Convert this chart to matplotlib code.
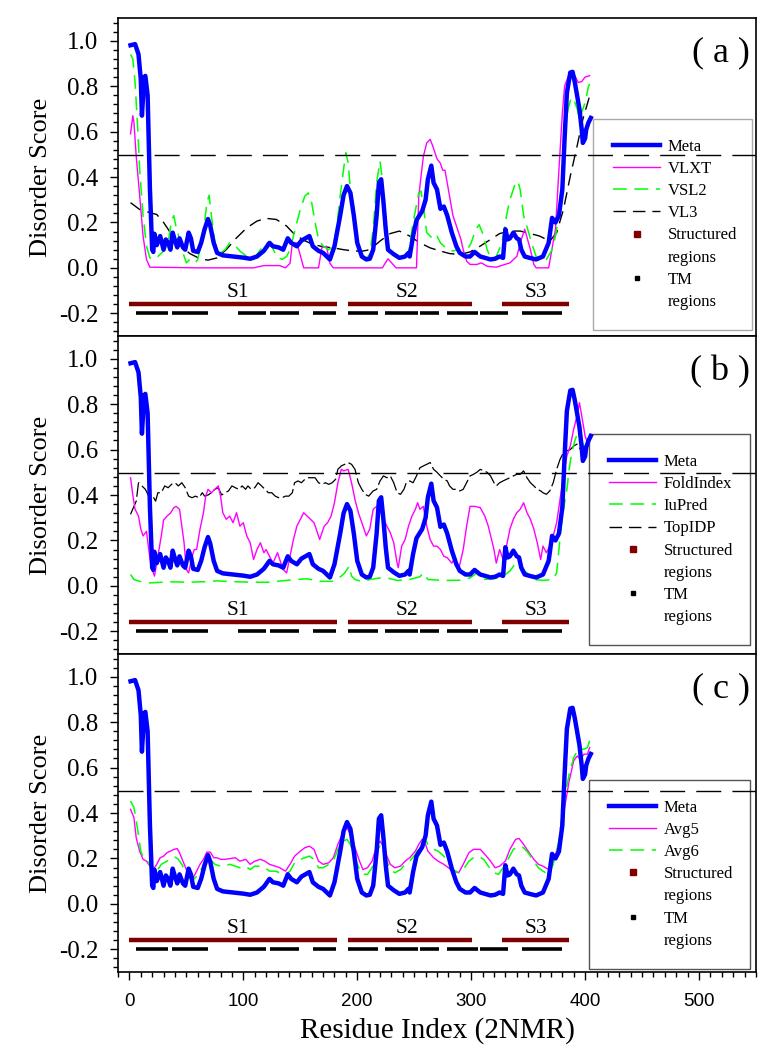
import matplotlib.pyplot as plt  # 绘图
from matplotlib.lines import Line2D  # 图例句柄
from matplotlib.ticker import MultipleLocator  # 刻度

plt.rcParams['font.family'] = ['Liberation Serif', 'DejaVu Serif']
plt.rcParams['axes.unicode_minus'] = False

# ---- Meta (same in all three panels) ----
meta_res = [1, 5, 8, 10, 11, 13, 14, 16, 17, 18, 20, 21, 22, 24, 27, 30, 32, 34, 36, 38, 40, 42, 44, 47, 49,
            52, 54, 56, 60, 63, 66, 69, 71, 74, 77, 82, 91, 100, 106, 112, 118, 123, 126, 131, 135, 139, 142,
            147, 151, 158, 161, 166, 170, 176, 180, 185, 188, 191, 194, 197, 200, 204, 208, 211, 214, 217, 219,
            221, 223, 225, 227, 232, 237, 242, 245, 246, 249, 252, 257, 260, 262, 265, 267, 270, 273, 276, 279,
            283, 287, 290, 295, 299, 303, 308, 312, 317, 321, 325, 328, 330, 332, 334, 337, 340, 342, 344, 347,
            352, 357, 363, 368, 371, 374, 377, 380, 382, 384, 387, 389, 391, 393, 395, 397, 398, 400, 401, 403, 405]
meta_score = [0.98, 0.985, 0.94, 0.83, 0.67, 0.84, 0.845, 0.76, 0.55, 0.35, 0.08, 0.07, 0.15, 0.10, 0.14, 0.08,
              0.125, 0.11, 0.08, 0.155, 0.12, 0.09, 0.13, 0.09, 0.08, 0.155, 0.13, 0.075, 0.07, 0.11, 0.17, 0.215,
              0.185, 0.11, 0.066, 0.055, 0.05, 0.045, 0.04, 0.05, 0.075, 0.11, 0.095, 0.09, 0.08, 0.13, 0.11,
              0.095, 0.12, 0.14, 0.095, 0.075, 0.066, 0.037, 0.095, 0.23, 0.32, 0.36, 0.33, 0.23, 0.11, 0.05,
              0.037, 0.04, 0.08, 0.23, 0.375, 0.39, 0.29, 0.17, 0.08, 0.06, 0.044, 0.05, 0.066, 0.05, 0.14, 0.21,
              0.25, 0.30, 0.39, 0.45, 0.375, 0.345, 0.26, 0.27, 0.23, 0.155, 0.095, 0.066, 0.05, 0.05, 0.07, 0.05,
              0.044, 0.037, 0.04, 0.05, 0.044, 0.17, 0.125, 0.13, 0.155, 0.13, 0.125, 0.08, 0.05, 0.043, 0.037,
              0.05, 0.11, 0.22, 0.20, 0.23, 0.345, 0.57, 0.77, 0.86, 0.863, 0.816, 0.757, 0.70, 0.61, 0.55, 0.57,
              0.61, 0.64, 0.66]

# ---- panel (a) ----
vlxt_res = [1, 3, 4, 6, 9, 12, 15, 18, 60, 109, 118, 132, 137, 141, 143, 147, 151, 153, 166, 169, 173, 176, 179,
            222, 227, 234, 252, 254, 258, 261, 264, 266, 270, 273, 275, 277, 280, 284, 288, 291, 293, 296, 299,
            305, 309, 314, 322, 334, 340, 344, 347, 352, 355, 357, 368, 374, 377, 380, 382, 385, 388, 391, 394,
            397, 400, 404]
vlxt_score = [0.59, 0.67, 0.64, 0.49, 0.32, 0.14, 0.037, 0.003, 0.0, 0.0, 0.01, 0.01, 0.0, 0.02, 0.11, 0.11,
              0.037, 0.0, 0.0, 0.09, 0.095, 0.02, 0.0, 0.0, 0.04, 0.0, 0.0, 0.316, 0.49, 0.55, 0.566, 0.54, 0.48,
              0.46, 0.43, 0.43, 0.345, 0.23, 0.17, 0.125, 0.08, 0.03, 0.015, 0.015, 0.022, 0.007, 0.003, 0.022,
              0.05, 0.125, 0.17, 0.08, 0.015, 0.0, 0.0, 0.17, 0.43, 0.68, 0.80, 0.84, 0.853, 0.846, 0.816, 0.82,
              0.84, 0.846]

vsl2_res = [1, 3, 5, 7, 9, 12, 15, 18, 21, 25, 30, 34, 37, 39, 41, 44, 47, 50, 53, 58, 60, 65, 68, 70, 72, 75,
            80, 84, 88, 93, 97, 103, 109, 115, 120, 125, 129, 134, 138, 141, 144, 147, 150, 154, 157, 160, 163,
            166, 170, 175, 179, 182, 185, 188, 190, 192, 195, 198, 202, 207, 211, 214, 217, 220, 222, 224, 227,
            232, 237, 240, 245, 249, 254, 256, 258, 261, 264, 267, 270, 273, 276, 280, 284, 288, 292, 296, 300,
            304, 307, 311, 314, 318, 322, 327, 331, 334, 338, 341, 343, 346, 349, 353, 357, 362, 366, 371, 374,
            377, 380, 382, 385, 388, 390, 393, 395, 397, 400, 403, 404]
vsl2_score = [0.94, 0.92, 0.816, 0.64, 0.434, 0.23, 0.096, 0.044, 0.037, 0.05, 0.074, 0.11, 0.21, 0.23, 0.18,
              0.125, 0.066, 0.022, 0.037, 0.022, 0.037, 0.155, 0.287, 0.32, 0.23, 0.11, 0.066, 0.08, 0.11, 0.096,
              0.074, 0.05, 0.037, 0.08, 0.11, 0.096, 0.05, 0.037, 0.05, 0.08, 0.14, 0.20, 0.257, 0.316, 0.33,
              0.287, 0.20, 0.125, 0.096, 0.08, 0.096, 0.18, 0.316, 0.434, 0.507, 0.463, 0.287, 0.17, 0.08, 0.037,
              0.06, 0.17, 0.375, 0.47, 0.39, 0.20, 0.08, 0.066, 0.05, 0.037, 0.066, 0.20, 0.33, 0.338, 0.27,
              0.155, 0.14, 0.125, 0.14, 0.11, 0.096, 0.08, 0.074, 0.08, 0.063, 0.074, 0.11, 0.17, 0.19, 0.14,
              0.08, 0.037, 0.05, 0.11, 0.23, 0.30, 0.36, 0.382, 0.345, 0.23, 0.18, 0.11, 0.05, 0.037, 0.037,
              0.08, 0.14, 0.23, 0.39, 0.58, 0.70, 0.75, 0.743, 0.70, 0.654, 0.684, 0.728, 0.80, 0.81]

vl3_res = [1, 9, 18, 24, 30, 36, 44, 53, 62, 69, 77, 85, 94, 103, 112, 120, 129, 138, 145, 153, 161, 170, 179,
           188, 197, 205, 211, 220, 229, 237, 246, 255, 264, 273, 281, 290, 299, 308, 317, 325, 334, 343, 352,
           360, 369, 375, 381, 387, 393, 398, 404]
vl3_score = [0.287, 0.257, 0.243, 0.235, 0.20, 0.155, 0.103, 0.063, 0.04, 0.034, 0.044, 0.08, 0.132, 0.176,
             0.206, 0.218, 0.213, 0.184, 0.147, 0.122, 0.103, 0.093, 0.088, 0.08, 0.074, 0.074, 0.08, 0.118,
             0.151, 0.162, 0.14, 0.11, 0.088, 0.074, 0.063, 0.059, 0.07, 0.096, 0.125, 0.151, 0.162, 0.162,
             0.151, 0.14, 0.118, 0.155, 0.257, 0.404, 0.537, 0.654, 0.757]

# ---- panel (b) ----
fold_res = [1, 3, 5, 8, 10, 12, 15, 17, 19, 22, 24, 26, 28, 30, 33, 36, 39, 41, 44, 46, 48, 50, 52, 55, 57, 59,
            62, 65, 67, 69, 72, 75, 78, 80, 82, 85, 88, 91, 94, 97, 100, 103, 106, 109, 112, 115, 118, 120, 123,
            126, 130, 133, 135, 138, 141, 144, 147, 150, 153, 156, 159, 162, 164, 167, 171, 174, 177, 180, 183,
            186, 188, 192, 195, 198, 201, 204, 208, 211, 214, 217, 220, 223, 226, 229, 232, 235, 236, 239, 242,
            245, 248, 251, 253, 255, 258, 261, 264, 267, 270, 273, 276, 279, 283, 286, 289, 293, 296, 299, 303,
            308, 312, 315, 320, 322, 325, 328, 331, 334, 337, 340, 343, 346, 349, 352, 355, 358, 361, 363, 366,
            369, 372, 375, 378, 381, 384, 387, 390, 393, 395, 397, 400, 403, 404]
fold_score = [0.476, 0.40, 0.337, 0.307, 0.25, 0.22, 0.24, 0.16, 0.087, 0.043, 0.10, 0.16, 0.22, 0.29, 0.307,
              0.32, 0.344, 0.35, 0.337, 0.263, 0.19, 0.072, 0.057, 0.13, 0.16, 0.16, 0.25, 0.322, 0.395, 0.425,
              0.41, 0.425, 0.44, 0.395, 0.322, 0.293, 0.307, 0.278, 0.322, 0.263, 0.278, 0.22, 0.19, 0.116, 0.16,
              0.19, 0.146, 0.16, 0.13, 0.10, 0.146, 0.10, 0.072, 0.057, 0.13, 0.204, 0.263, 0.293, 0.322, 0.307,
              0.293, 0.278, 0.25, 0.204, 0.263, 0.278, 0.307, 0.366, 0.454, 0.513, 0.506, 0.513, 0.454, 0.38,
              0.322, 0.278, 0.22, 0.25, 0.337, 0.35, 0.337, 0.293, 0.263, 0.234, 0.19, 0.10, 0.08, 0.175, 0.204,
              0.263, 0.307, 0.337, 0.366, 0.337, 0.35, 0.263, 0.204, 0.175, 0.175, 0.16, 0.13, 0.124, 0.10,
              0.124, 0.072, 0.16, 0.263, 0.35, 0.35, 0.344, 0.307, 0.263, 0.16, 0.10, 0.16, 0.116, 0.175, 0.25,
              0.293, 0.322, 0.337, 0.366, 0.322, 0.293, 0.25, 0.19, 0.116, 0.175, 0.146, 0.175, 0.22, 0.278,
              0.38, 0.484, 0.572, 0.616, 0.69, 0.75, 0.807, 0.75, 0.66, 0.616, 0.645]

iupred_res = [1, 4, 9, 18, 36, 50, 65, 77, 94, 109, 123, 138, 147, 156, 167, 179, 186, 189, 193, 195, 198, 205,
              211, 220, 226, 235, 246, 255, 258, 262, 276, 293, 299, 305, 309, 320, 328, 334, 339, 343, 349,
              355, 363, 372, 375, 377, 380, 384, 386, 388, 391, 394, 397, 400, 402]
iupred_score = [0.05, 0.028, 0.02, 0.013, 0.018, 0.016, 0.018, 0.022, 0.018, 0.016, 0.016, 0.024, 0.028, 0.031,
                0.02, 0.02, 0.043, 0.057, 0.087, 0.043, 0.028, 0.018, 0.028, 0.035, 0.035, 0.024, 0.028, 0.04,
                0.057, 0.028, 0.024, 0.025, 0.035, 0.057, 0.028, 0.031, 0.043, 0.065, 0.10, 0.08, 0.057, 0.028,
                0.024, 0.028, 0.057, 0.16, 0.307, 0.425, 0.513, 0.58, 0.64, 0.68, 0.64, 0.60, 0.587]

topidp_res = [1, 4, 6, 8, 11, 14, 17, 20, 23, 25, 28, 31, 34, 37, 40, 43, 46, 49, 52, 55, 58, 61, 64, 66, 69,
              72, 75, 78, 81, 84, 87, 90, 93, 96, 99, 102, 104, 107, 110, 113, 116, 119, 122, 125, 128, 131,
              134, 137, 140, 143, 145, 148, 151, 154, 157, 160, 163, 166, 169, 172, 175, 178, 181, 183, 186,
              189, 192, 195, 198, 201, 204, 207, 210, 214, 217, 220, 223, 226, 229, 232, 235, 238, 241, 243,
              246, 249, 252, 255, 258, 261, 264, 267, 270, 273, 276, 279, 281, 284, 287, 290, 293, 296, 299,
              302, 305, 308, 311, 314, 317, 320, 322, 325, 328, 331, 334, 337, 340, 343, 346, 349, 352, 355,
              358, 361, 363, 366, 369, 372, 375, 378, 381, 384, 387, 390, 393, 396, 399, 401, 403]
topidp_score = [0.315, 0.35, 0.373, 0.454, 0.44, 0.425, 0.395, 0.40, 0.373, 0.41, 0.41, 0.44, 0.432, 0.447,
                0.454, 0.44, 0.454, 0.432, 0.395, 0.388, 0.395, 0.388, 0.41, 0.395, 0.40, 0.41, 0.425, 0.432,
                0.40, 0.41, 0.418, 0.44, 0.432, 0.425, 0.44, 0.425, 0.44, 0.425, 0.432, 0.454, 0.44, 0.425,
                0.41, 0.41, 0.395, 0.388, 0.388, 0.395, 0.395, 0.41, 0.454, 0.462, 0.454, 0.469, 0.476, 0.476,
                0.476, 0.454, 0.447, 0.454, 0.447, 0.454, 0.469, 0.513, 0.528, 0.535, 0.543, 0.535, 0.513,
                0.454, 0.425, 0.403, 0.395, 0.418, 0.425, 0.462, 0.484, 0.476, 0.484, 0.454, 0.41, 0.403, 0.425,
                0.454, 0.462, 0.454, 0.484, 0.52, 0.528, 0.535, 0.543, 0.513, 0.50, 0.484, 0.469, 0.462, 0.44,
                0.425, 0.425, 0.418, 0.425, 0.454, 0.484, 0.491, 0.50, 0.513, 0.506, 0.50, 0.484, 0.454, 0.44,
                0.454, 0.462, 0.469, 0.476, 0.484, 0.491, 0.491, 0.506, 0.476, 0.454, 0.44, 0.425, 0.418, 0.41,
                0.403, 0.418, 0.454, 0.513, 0.557, 0.587, 0.594, 0.60, 0.616, 0.624, 0.60, 0.616, 0.594, 0.61]

# ---- panel (c) ----
avg5_res = [1, 4, 6, 9, 12, 15, 18, 21, 24, 27, 30, 33, 36, 39, 42, 44, 47, 50, 53, 56, 59, 62, 65, 68, 71, 74,
            77, 80, 84, 88, 93, 97, 102, 106, 110, 115, 119, 123, 128, 132, 137, 141, 145, 150, 154, 158, 162,
            166, 170, 175, 179, 183, 188, 191, 194, 198, 202, 205, 209, 213, 217, 220, 223, 226, 229, 233, 238,
            242, 246, 251, 254, 257, 260, 262, 267, 271, 276, 280, 284, 289, 293, 298, 302, 308, 312, 317, 321,
            325, 330, 334, 339, 342, 346, 350, 355, 359, 363, 368, 372, 377, 381, 386, 390, 393, 396, 399, 402,
            404]
avg5_score = [0.416, 0.38, 0.29, 0.232, 0.196, 0.188, 0.166, 0.151, 0.174, 0.203, 0.21, 0.225, 0.232, 0.24,
              0.243, 0.225, 0.188, 0.151, 0.137, 0.115, 0.144, 0.174, 0.196, 0.228, 0.228, 0.203, 0.203, 0.196,
              0.196, 0.199, 0.203, 0.188, 0.196, 0.174, 0.188, 0.196, 0.188, 0.174, 0.166, 0.159, 0.144, 0.174,
              0.21, 0.232, 0.247, 0.254, 0.24, 0.188, 0.174, 0.181, 0.203, 0.262, 0.32, 0.335, 0.306, 0.247,
              0.188, 0.151, 0.159, 0.188, 0.254, 0.276, 0.254, 0.21, 0.174, 0.159, 0.166, 0.188, 0.203, 0.232,
              0.262, 0.284, 0.262, 0.232, 0.203, 0.188, 0.174, 0.159, 0.144, 0.137, 0.174, 0.225, 0.24, 0.24,
              0.218, 0.188, 0.159, 0.166, 0.188, 0.24, 0.284, 0.288, 0.262, 0.232, 0.196, 0.174, 0.166, 0.151,
              0.188, 0.262, 0.394, 0.541, 0.63, 0.651, 0.637, 0.659, 0.659, 0.688]

avg6_res = [1, 4, 7, 10, 13, 16, 19, 21, 25, 28, 33, 37, 40, 43, 46, 49, 52, 56, 61, 65, 68, 71, 75, 80, 84, 88,
            93, 97, 102, 106, 110, 115, 119, 123, 128, 132, 137, 141, 145, 150, 154, 158, 162, 166, 170, 175,
            179, 183, 188, 191, 194, 198, 202, 205, 209, 213, 217, 220, 223, 226, 229, 233, 238, 242, 246, 251,
            255, 259, 262, 267, 271, 276, 280, 284, 289, 293, 298, 302, 306, 311, 315, 320, 324, 328, 333, 337,
            342, 346, 350, 355, 359, 363, 368, 372, 377, 381, 386, 390, 394, 399, 402, 404]
avg6_score = [0.453, 0.424, 0.335, 0.232, 0.196, 0.188, 0.159, 0.13, 0.151, 0.174, 0.188, 0.203, 0.206, 0.196,
              0.174, 0.144, 0.115, 0.107, 0.13, 0.174, 0.218, 0.196, 0.174, 0.166, 0.166, 0.174, 0.166, 0.159,
              0.166, 0.151, 0.166, 0.166, 0.159, 0.144, 0.144, 0.137, 0.13, 0.144, 0.181, 0.196, 0.203, 0.21,
              0.196, 0.159, 0.159, 0.174, 0.188, 0.24, 0.276, 0.284, 0.262, 0.203, 0.151, 0.13, 0.13, 0.159,
              0.232, 0.254, 0.232, 0.188, 0.151, 0.137, 0.151, 0.174, 0.188, 0.218, 0.254, 0.291, 0.262, 0.24,
              0.232, 0.21, 0.181, 0.151, 0.137, 0.151, 0.188, 0.203, 0.21, 0.196, 0.166, 0.137, 0.13, 0.159,
              0.203, 0.24, 0.254, 0.247, 0.225, 0.188, 0.159, 0.144, 0.13, 0.174, 0.276, 0.438, 0.571, 0.644,
              0.681, 0.681, 0.688, 0.718]

# ---- structured / TM regions ----
struct_start = [0, 192, 327]
struct_end = [182, 301, 386]
struct_names = ['S1', 'S2', 'S3']
struct_label_x = [95, 244, 357]
tm_start = [6, 37, 95, 123, 161, 192, 224, 255, 279, 308, 345]
tm_end = [34, 69, 120, 149, 181, 218, 253, 272, 306, 332, 380]

W, H = 768, 1050
fig = plt.figure(figsize=(W / 100, H / 100), dpi=100)

ax_left, ax_width = 118 / W, 638 / W
panel_h = 318
panel_tops = [18, 336, 654]


def draw_regions(ax):
    """结构区域和跨膜区域"""
    for s0, s1 in zip(struct_start, struct_end):
        ax.plot([s0, s1], [-0.157, -0.157], color='#800000', lw=3.2, solid_capstyle='butt')
    for t0, t1 in zip(tm_start, tm_end):
        ax.plot([t0, t1], [-0.198, -0.198], color='black', lw=2.6, solid_capstyle='butt')
    for name, xs in zip(struct_names, struct_label_x):
        ax.text(xs, -0.11, name, ha='center', va='center', fontsize=15.5)


def make_legend(ax, handles, labels, anchor, edge):
    """右下角图例"""
    handles = handles + [
        Line2D([], [], ls='none', marker='s', color='#800000', markersize=4),
        Line2D([], [], ls='none'),
        Line2D([], [], ls='none', marker='s', color='black', markersize=3),
        Line2D([], [], ls='none'),
    ]
    labels = labels + ['Structured', 'regions', 'TM', 'regions']
    leg = ax.legend(handles, labels, loc='lower left', bbox_to_anchor=anchor, mode='expand',
                    borderaxespad=0, fontsize=12, handlelength=2.8, handletextpad=0.45,
                    labelspacing=0.37, borderpad=1.2, fancybox=False, framealpha=1)
    leg.get_frame().set_edgecolor(edge)
    leg.get_frame().set_linewidth(1.0)
    leg.set_zorder(1)


axes = []
for i, top in enumerate(panel_tops):
    ax = fig.add_axes([ax_left, (H - top - panel_h) / H, ax_width, panel_h / H])
    ax.set_xlim(-10, 550)
    ax.set_ylim(-0.3, 1.1)
    ax.yaxis.set_major_locator(MultipleLocator(0.2))
    ax.yaxis.set_minor_locator(MultipleLocator(0.04))
    ax.yaxis.set_major_formatter(plt.FuncFormatter(lambda v, p: '%.1f' % v))
    ax.tick_params(axis='y', which='major', direction='out', length=6, width=1, labelsize=18, pad=8)
    ax.tick_params(axis='y', which='minor', direction='out', length=3.5, width=1)
    ax.tick_params(axis='x', which='both', bottom=False, labelbottom=False)
    for sp in ax.spines.values():
        sp.set_linewidth(1.2)
    ax.set_ylabel('Disorder Score', fontsize=19)
    ax.yaxis.set_label_coords(-0.104, 0.5)
    ax.axhline(0.495, color='black', lw=1.0, ls=(0, (18, 8)), zorder=3)
    draw_regions(ax)
    axes.append(ax)

meta_kw = dict(color='#0000ff', lw=3.2, zorder=4)
thin = 1.0

# (a)
ax = axes[0]
ax.plot(vl3_res, vl3_score, color='black', lw=1.0, ls=(0, (9, 5)), zorder=2)
ax.plot(vlxt_res, vlxt_score, color='#ff00ff', lw=thin, zorder=2)
ax.plot(vsl2_res, vsl2_score, color='#00ff00', lw=1.1, ls=(0, (9, 5)), zorder=2)
ax.plot(meta_res, meta_score, **meta_kw)
make_legend(ax, [Line2D([], [], color='#0000ff', lw=3.2),
                 Line2D([], [], color='#ff00ff', lw=thin),
                 Line2D([], [], color='#00ff00', lw=1.1, ls=(0, (9, 5))),
                 Line2D([], [], color='black', lw=1.0, ls=(0, (9, 5)))],
            ['Meta', 'VLXT', 'VSL2', 'VL3'], (0.745, 0.019, 0.249, 0.6), '#aaaaaa')
ax.text(0.99, 0.89, '( a )', transform=ax.transAxes, ha='right', va='center', fontsize=26)

# (b)
ax = axes[1]
ax.plot(topidp_res, topidp_score, color='black', lw=0.9, ls=(0, (12, 3)), zorder=2)
ax.plot(fold_res, fold_score, color='#ff00ff', lw=thin, zorder=2)
ax.plot(iupred_res, iupred_score, color='#00ff00', lw=1.1, ls=(0, (9, 5)), zorder=2)
ax.plot(meta_res, meta_score, **meta_kw)
make_legend(ax, [Line2D([], [], color='#0000ff', lw=3.2),
                 Line2D([], [], color='#ff00ff', lw=thin),
                 Line2D([], [], color='#00ff00', lw=1.1, ls=(0, (9, 5))),
                 Line2D([], [], color='black', lw=1.0, ls=(0, (9, 5)))],
            ['Meta', 'FoldIndex', 'IuPred', 'TopIDP'], (0.739, 0.028, 0.252, 0.6), '#555555')
ax.text(0.99, 0.887, '( b )', transform=ax.transAxes, ha='right', va='center', fontsize=26)

# (c)
ax = axes[2]
ax.plot(avg5_res, avg5_score, color='#ff00ff', lw=thin, zorder=2)
ax.plot(avg6_res, avg6_score, color='#00ff00', lw=1.1, ls=(0, (9, 5)), zorder=2)
ax.plot(meta_res, meta_score, **meta_kw)
make_legend(ax, [Line2D([], [], color='#0000ff', lw=3.2),
                 Line2D([], [], color='#ff00ff', lw=thin),
                 Line2D([], [], color='#00ff00', lw=1.1, ls=(0, (9, 5)))],
            ['Meta', 'Avg5', 'Avg6'], (0.739, 0.01, 0.252, 0.6), '#555555')
ax.text(0.99, 0.89, '( c )', transform=ax.transAxes, ha='right', va='center', fontsize=26)

# 底部 x 轴
ax.xaxis.set_major_locator(MultipleLocator(100))
ax.xaxis.set_minor_locator(MultipleLocator(10))
ax.tick_params(axis='x', which='major', bottom=True, labelbottom=True, direction='out', length=6, width=1,
               labelsize=13.5, pad=9)
ax.tick_params(axis='x', which='minor', bottom=True, direction='out', length=3.5, width=1)
for lab in ax.get_xticklabels():
    lab.set_family(['Liberation Sans', 'DejaVu Sans'])
ax.set_xlabel('Residue Index (2NMR)', fontsize=21, labelpad=5)

fig.savefig('out.png', dpi=100)
